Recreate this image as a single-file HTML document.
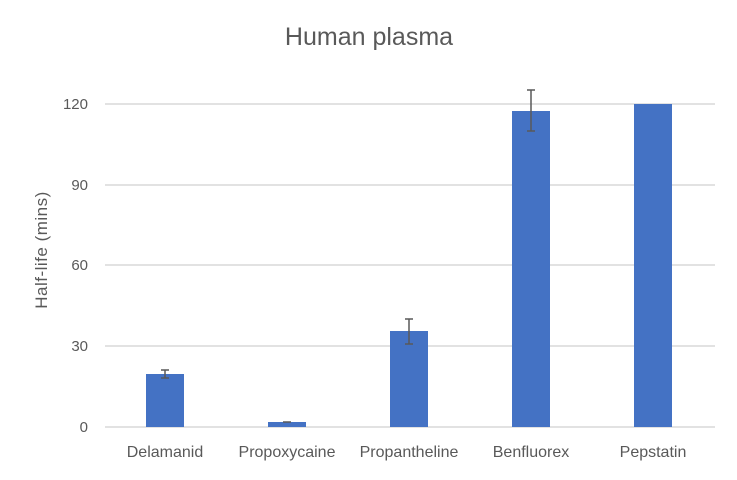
<!DOCTYPE html>
<html><head><style>body{margin:0;background:#fff}</style></head><body>
<svg width="737" height="475" xmlns="http://www.w3.org/2000/svg" font-family="Liberation Sans, sans-serif">
<rect width="737" height="475" fill="#fff"/>
<text x="369" y="45" font-size="25" fill="#595959" text-anchor="middle">Human plasma</text>
<g stroke="#d9d9d9" stroke-width="1.5">
<line x1="105" x2="715" y1="104" y2="104"/>
<line x1="105" x2="715" y1="185" y2="185"/>
<line x1="105" x2="715" y1="265" y2="265"/>
<line x1="105" x2="715" y1="346" y2="346"/>
<line x1="105" x2="715" y1="427" y2="427"/>
</g>
<g font-size="15" fill="#595959" text-anchor="end">
<text x="88" y="109">120</text><text x="88" y="190">90</text><text x="88" y="270">60</text><text x="88" y="351">30</text><text x="88" y="432">0</text>
</g>
<text transform="translate(47,250) rotate(-90)" font-size="17" fill="#595959" text-anchor="middle" letter-spacing="0.5">Half-life (mins)</text>
<g fill="#4472c4">
<rect x="146" y="374" width="38" height="53"/>
<rect x="268" y="422" width="38" height="5"/>
<rect x="390" y="331" width="38" height="96"/>
<rect x="512" y="111" width="38" height="316"/>
<rect x="634" y="104" width="38" height="323"/>
</g>
<g stroke="#595959" stroke-width="1.5">
<line x1="165" x2="165" y1="370" y2="378"/><line x1="161" x2="169" y1="370" y2="370"/><line x1="161" x2="169" y1="378" y2="378"/>
<line x1="283" x2="291" y1="422" y2="422"/>
<line x1="409" x2="409" y1="319" y2="344"/><line x1="405" x2="413" y1="319" y2="319"/><line x1="405" x2="413" y1="344" y2="344"/>
<line x1="531" x2="531" y1="90" y2="131"/><line x1="527" x2="535" y1="90" y2="90"/><line x1="527" x2="535" y1="131" y2="131"/>
</g>
<g font-size="16" fill="#595959" text-anchor="middle">
<text x="165" y="457">Delamanid</text><text x="287" y="457">Propoxycaine</text><text x="409" y="457">Propantheline</text><text x="531" y="457">Benfluorex</text><text x="653" y="457">Pepstatin</text>
</g>
</svg>
</body></html>
